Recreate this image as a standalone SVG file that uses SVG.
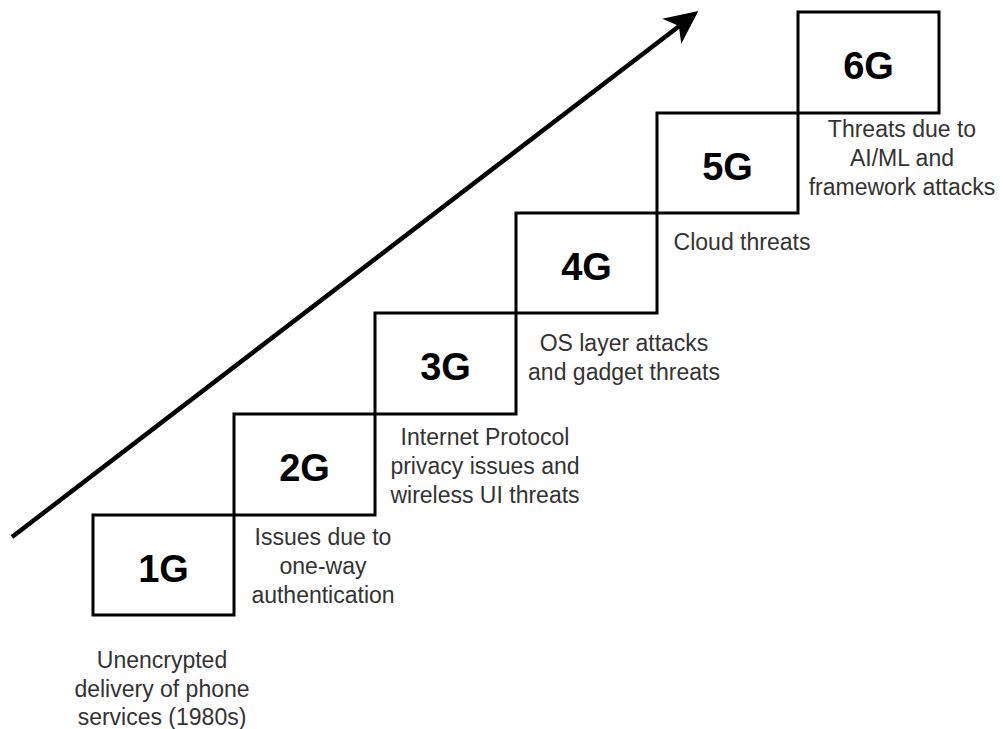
<svg xmlns="http://www.w3.org/2000/svg" width="1003" height="729" viewBox="0 0 1003 729">
<style>
.box{fill:#fff;stroke:#000;stroke-width:3}
.gen{font-family:"Liberation Sans",Arial,sans-serif;font-weight:bold;font-size:38px;fill:#000;text-anchor:middle}
.lbl{font-family:"Liberation Sans",Arial,sans-serif;font-size:23px;fill:#333;text-anchor:middle}
</style>
<rect width="1003" height="729" fill="#fff"/>
<g id="connectors">
<line x1="12" y1="537" x2="680" y2="25.5" stroke="#000" stroke-width="4.5"/>
<polygon points="697,12 681.7,41.4 679.5,25.4 664.7,19.1" fill="#000" stroke="#000" stroke-width="1.5" stroke-linejoin="miter"/>
</g>
<g id="n1G"><rect class="box" x="93" y="515" width="141" height="100"/><text class="gen" x="163.5" y="582">1G</text></g>
<g id="n2G"><rect class="box" x="234" y="414" width="141" height="101"/><text class="gen" x="304.5" y="481">2G</text></g>
<g id="n3G"><rect class="box" x="375" y="313" width="141" height="101"/><text class="gen" x="445.5" y="380">3G</text></g>
<g id="n4G"><rect class="box" x="516" y="213" width="141" height="100"/><text class="gen" x="586.5" y="280">4G</text></g>
<g id="n5G"><rect class="box" x="657" y="113" width="141" height="100"/><text class="gen" x="727.5" y="180">5G</text></g>
<g id="n6G"><rect class="box" x="798" y="12" width="141" height="101"/><text class="gen" x="868.5" y="79">6G</text></g>
<g id="label1G"><text class="lbl" x="162"><tspan x="162" y="668">Unencrypted</tspan><tspan x="162" y="697">delivery of phone</tspan><tspan x="162" y="725">services (1980s)</tspan></text></g>
<g id="label2G"><text class="lbl"><tspan x="323" y="545">Issues due to</tspan><tspan x="323" y="574">one-way</tspan><tspan x="323" y="603">authentication</tspan></text></g>
<g id="label3G"><text class="lbl"><tspan x="485" y="445">Internet Protocol</tspan><tspan x="485" y="474">privacy issues and</tspan><tspan x="485" y="503">wireless UI threats</tspan></text></g>
<g id="label4G"><text class="lbl"><tspan x="624" y="351">OS layer attacks</tspan><tspan x="624" y="380">and gadget threats</tspan></text></g>
<g id="label5G"><text class="lbl"><tspan x="742" y="250">Cloud threats</tspan></text></g>
<g id="label6G"><text class="lbl"><tspan x="902" y="137">Threats due to</tspan><tspan x="902" y="166">AI/ML and</tspan><tspan x="902" y="195">framework attacks</tspan></text></g>
</svg>
